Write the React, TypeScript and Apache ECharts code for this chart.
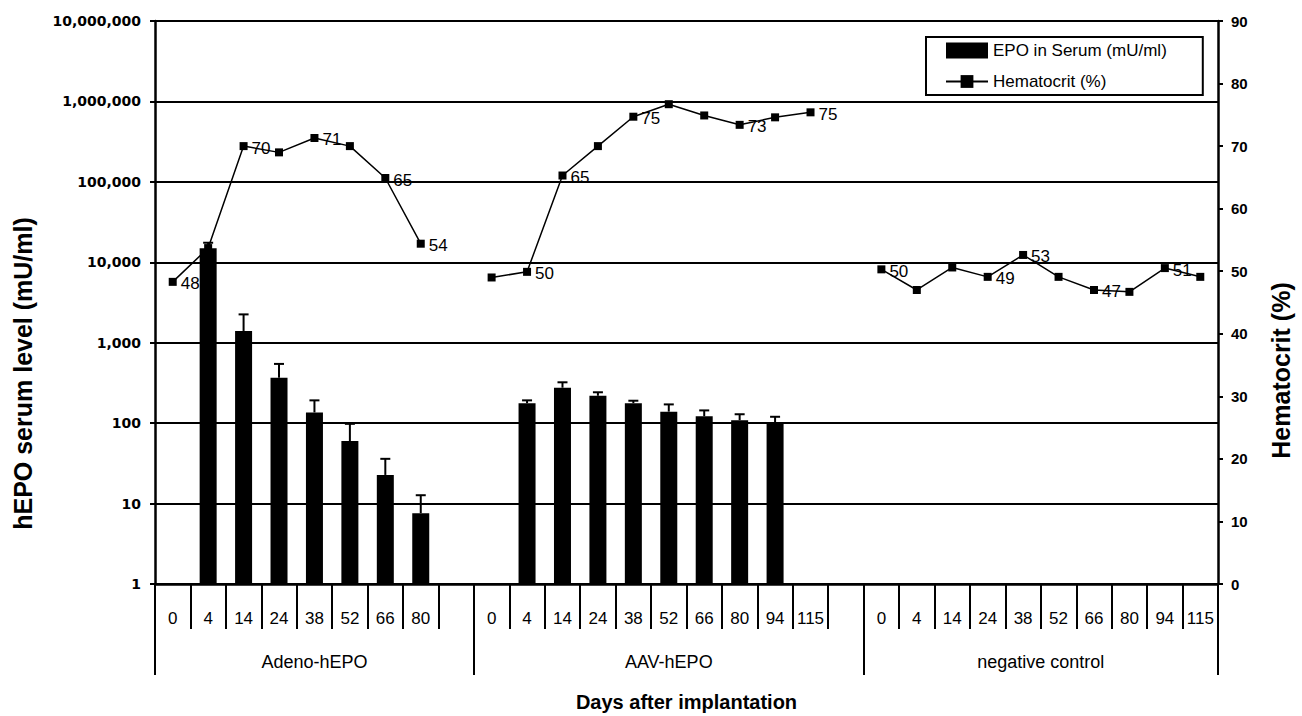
import React, { useEffect, useRef } from 'react';
import * as echarts from 'echarts';

// ---- Data ----
const groupNames = ['Adeno-hEPO', 'AAV-hEPO', 'negative control'];

const adenoDays = ['0', '4', '14', '24', '38', '52', '66', '80'];
const aavDays = ['0', '4', '14', '24', '38', '52', '66', '80', '94', '115'];
const negDays = ['0', '4', '14', '24', '38', '52', '66', '80', '94', '115'];

// EPO in serum (mU/ml), mean and upper error (SD)
const adenoEpo = [null, 14900, 1400, 367, 136, 60, 22.7, 7.6];
const adenoEpoSd = [null, 2600, 850, 178, 56, 38, 13.3, 5.1];
const aavEpo = [null, 177, 276, 219, 177, 139, 122, 109, 102, null];
const aavEpoSd = [null, 15, 46, 23, 13, 32, 22, 20, 18, null];
const negEpo = [null, null, null, null, null, null, null, null, null, null];
const negEpoSd = [null, null, null, null, null, null, null, null, null, null];

// Hematocrit (%)
const adenoHct = [48.3, 53.7, 70.0, 69.0, 71.3, 70.0, 64.9, 54.4];
const aavHct = [49.0, 49.9, 65.3, 70.0, 74.7, 76.7, 74.9, 73.4, 74.6, 75.4];
const negHct = [50.3, 47.0, 50.6, 49.1, 52.6, 49.1, 47.0, 46.7, 50.5, 49.1];

// indices of hematocrit points carrying a value label
const adenoLabelled = [0, 2, 4, 6, 7];
const aavLabelled = [1, 2, 4, 7, 9];
const negLabelled = [0, 3, 4, 6, 8];

const groupGaps = [1, 1, 0];

// ---- Layout constants ----
const GRID_LEFT = 155;
const GRID_RIGHT = 84;
const GRID_TOP = 21;
const GRID_BOTTOM = 132;
const WIDTH = 1302;
const HEIGHT = 716;

const groups = [
  { name: groupNames[0], days: adenoDays, epo: adenoEpo, sd: adenoEpoSd, hct: adenoHct, labelled: adenoLabelled, gap: groupGaps[0] },
  { name: groupNames[1], days: aavDays, epo: aavEpo, sd: aavEpoSd, hct: aavHct, labelled: aavLabelled, gap: groupGaps[1] },
  { name: groupNames[2], days: negDays, epo: negEpo, sd: negEpoSd, hct: negHct, labelled: negLabelled, gap: groupGaps[2] },
];

function buildData() {
  const categories: string[] = [];
  const epo: (number | null)[] = [];
  const errData: number[][] = [];
  const hct: any[] = [];
  const groupStarts: number[] = [];
  const groupCenters: number[] = [];
  groups.forEach((g) => {
    const start = categories.length;
    groupStarts.push(start);
    g.days.forEach((d, i) => {
      const idx = categories.length;
      categories.push(d);
      epo.push(g.epo[i]);
      if (g.epo[i] != null && g.sd[i] != null) {
        errData.push([idx, g.epo[i] as number, (g.epo[i] as number) + (g.sd[i] as number)]);
      }
      const v = g.hct[i];
      hct.push(g.labelled.includes(i) ? { value: v, label: { show: true } } : v);
    });
    for (let k = 0; k < g.gap; k++) {
      categories.push('');
      epo.push(null);
      hct.push(null);
    }
    const size = categories.length - start;
    groupCenters.push(start + (size - 1) / 2);
  });
  return { categories, epo, errData, hct, groupStarts, groupCenters };
}

export default function App() {
  const ref = useRef<HTMLDivElement>(null);

  useEffect(() => {
    if (!ref.current) return;
    const chart = echarts.init(ref.current, undefined, { renderer: 'svg' });
    const { categories, epo, errData, hct, groupStarts, groupCenters } = buildData();
    const band = (WIDTH - GRID_LEFT - GRID_RIGHT) / categories.length;

    const groupAxisData: any[] = categories.map(() => '');
    groups.forEach((g, gi) => {
      const c = groupCenters[gi];
      const idx = Math.floor(c);
      const frac = c - idx;
      groupAxisData[idx] = frac > 0
        ? { value: g.name, textStyle: { padding: [0, 0, 0, frac * 2 * band] } }
        : { value: g.name };
    });

    const black = '#000';
    const font = 'Liberation Sans';

    chart.setOption({
      animation: false,
      backgroundColor: '#fff',
      textStyle: { fontFamily: font, color: black },
      grid: {
        left: GRID_LEFT,
        right: GRID_RIGHT,
        top: GRID_TOP,
        bottom: GRID_BOTTOM,
        containLabel: false,
        outerBoundsMode: 'none',
      },
      legend: {
        orient: 'vertical',
        left: 926,
        top: 37,
        data: [
          { name: 'EPO in Serum (mU/ml)', icon: 'rect' },
          { name: 'Hematocrit (%)' },
        ],
        itemWidth: 42,
        itemHeight: 16,
        itemGap: 14,
        padding: [5, 36, 5, 19],
        borderColor: black,
        borderWidth: 2,
        backgroundColor: '#fff',
        textStyle: { fontSize: 17, color: black, fontFamily: font },
      },
      xAxis: [
        {
          type: 'category',
          data: categories,
          position: 'bottom',
          boundaryGap: true,
          axisLine: { show: true, lineStyle: { color: black, width: 2.5 } },
          axisTick: { show: true, interval: 0, length: 45, lineStyle: { color: black, width: 2 } },
          axisLabel: { interval: 0, margin: 26, color: black, fontSize: 17, fontFamily: font },
          splitLine: { show: false },
          name: 'Days after implantation',
          nameLocation: 'middle',
          nameGap: 108,
          nameTextStyle: { fontWeight: 'bold', fontSize: 20, color: black, fontFamily: font },
        },
        {
          type: 'category',
          data: groupAxisData,
          position: 'bottom',
          boundaryGap: true,
          axisLine: { show: false },
          axisTick: {
            show: true,
            interval: (i: number) => groupStarts.includes(i),
            length: 91,
            lineStyle: { color: black, width: 2 },
          },
          axisLabel: { interval: 0, margin: 69, color: black, fontSize: 18, fontFamily: font },
          splitLine: { show: false },
        },
      ],
      yAxis: [
        {
          type: 'log',
          logBase: 10,
          min: 1,
          max: 10000000,
          position: 'left',
          axisLine: { show: true, lineStyle: { color: black, width: 2.5 } },
          axisTick: { show: true, inside: false, length: 5, lineStyle: { color: black, width: 2 } },
          axisLabel: {
            color: black,
            fontFamily: 'DejaVu Sans',
            fontWeight: 'bold',
            fontSize: 14,
            margin: 14,
            formatter: (v: number) => Math.round(v).toLocaleString('en-US'),
          },
          splitLine: { show: true, lineStyle: { color: black, width: 2 } },
          name: 'hEPO serum level (mU/ml)',
          nameLocation: 'middle',
          nameRotate: 90,
          nameGap: 120,
          nameTextStyle: { fontWeight: 'bold', fontSize: 25, color: black, fontFamily: font, padding: [0, 142, 0, 0] },
        },
        {
          type: 'value',
          min: 0,
          max: 90,
          interval: 10,
          position: 'right',
          axisLine: { show: true, lineStyle: { color: black, width: 2.5 } },
          axisTick: { show: true, inside: false, length: 5, lineStyle: { color: black, width: 2 } },
          axisLabel: { color: black, fontWeight: 'bold', fontSize: 15, fontFamily: font, margin: 13 },
          splitLine: { show: false },
          name: 'Hematocrit (%)',
          nameLocation: 'middle',
          nameRotate: 90,
          nameGap: 50,
          nameTextStyle: { fontWeight: 'bold', fontSize: 25, color: black, fontFamily: font, padding: [0, 136, 0, 0] },
        },
      ],
      series: [
        {
          type: 'line',
          name: 'Hematocrit (%)',
          xAxisIndex: 0,
          yAxisIndex: 1,
          data: hct,
          symbol: 'rect',
          symbolSize: 8,
          showSymbol: true,
          showAllSymbol: true,
          connectNulls: false,
          lineStyle: { color: black, width: 1.5 },
          itemStyle: { color: black },
          label: {
            show: false,
            position: 'right',
            distance: 4,
            offset: [0, 2],
            color: black,
            fontSize: 17,
            fontFamily: font,
            formatter: (p: any) => String(Math.round(p.value)),
          },
          z: 2,
        },
        {
          type: 'bar',
          name: 'EPO in Serum (mU/ml)',
          xAxisIndex: 0,
          yAxisIndex: 0,
          data: epo,
          barWidth: 17,
          itemStyle: { color: black },
          z: 3,
        },
        {
          type: 'custom',
          name: 'error',
          xAxisIndex: 0,
          yAxisIndex: 0,
          data: errData,
          encode: { x: 0, y: [1, 2] },
          silent: true,
          z: 4,
          renderItem: (params: any, api: any) => {
            const x = api.value(0);
            const p0 = api.coord([x, api.value(1)]);
            const p1 = api.coord([x, api.value(2)]);
            const hw = 5;
            return {
              type: 'group',
              children: [
                { type: 'line', shape: { x1: p0[0], y1: p0[1], x2: p1[0], y2: p1[1] }, style: { stroke: black, lineWidth: 2 } },
                { type: 'line', shape: { x1: p1[0] - hw, y1: p1[1], x2: p1[0] + hw, y2: p1[1] }, style: { stroke: black, lineWidth: 2 } },
              ],
            };
          },
        },
      ],
    });

    return () => chart.dispose();
  }, []);

  return (
    <div
      ref={ref}
      style={{ position: 'fixed', left: 0, top: 0, width: WIDTH, height: HEIGHT, background: '#fff' }}
    />
  );
}
